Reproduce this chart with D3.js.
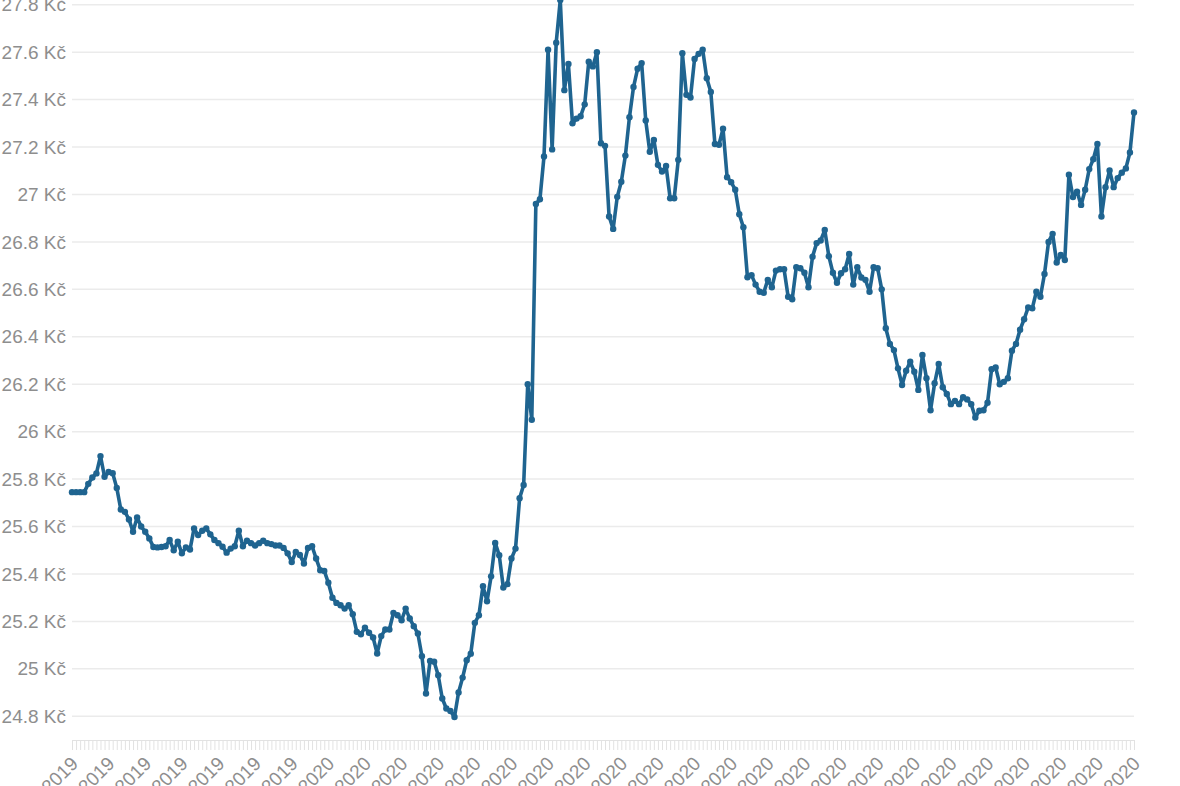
<!DOCTYPE html>
<html lang="cs">
<head>
    <meta charset="UTF-8">
    <title>Kurz EUR/CZK</title>
    <script src="https://d3js.org/d3.v7.min.js"></script>
    <style>
        body {
            margin: 0;
            background: #fff;
        }

        #chart svg {
            display: block;
            font-family: Roboto, "Open Sans", sans-serif;
        }

        .grid line {
            stroke: #ebebeb;
            stroke-width: 1.5;
        }

        .axis text {
            fill: #8e8e8e;
            font-size: 19px;
        }

        .x-axis line,
        .x-axis path {
            stroke: #e2e2e2;
        }
    </style>
</head>
<body>
    <div id="chart"></div>

    <script>
        // Daily rate (Kč)
        const rates = [
            25.745, 25.745, 25.745, 25.745, 25.78, 25.807, 25.824, 25.897, 25.81, 25.83,
            25.825, 25.763, 25.672, 25.662, 25.63, 25.578, 25.638, 25.60, 25.578, 25.55,
            25.514, 25.512, 25.514, 25.517, 25.543, 25.50, 25.536, 25.487, 25.512, 25.503,
            25.592, 25.564, 25.582, 25.592, 25.567, 25.543, 25.53, 25.515, 25.49, 25.507,
            25.517, 25.582, 25.517, 25.54, 25.53, 25.52, 25.53, 25.54, 25.53, 25.526,
            25.52, 25.52, 25.51, 25.487, 25.45, 25.493, 25.48, 25.444, 25.51, 25.517,
            25.465, 25.416, 25.413, 25.363, 25.30, 25.278, 25.268, 25.254, 25.268, 25.23,
            25.156, 25.146, 25.174, 25.152, 25.132, 25.065, 25.138, 25.166, 25.166, 25.236,
            25.226, 25.205, 25.254, 25.212, 25.18, 25.149, 25.053, 24.896, 25.033, 25.03,
            24.973, 24.875, 24.833, 24.822, 24.797, 24.90, 24.963, 25.036, 25.064, 25.194,
            25.226, 25.348, 25.285, 25.39, 25.531, 25.479, 25.343, 25.357, 25.465, 25.507,
            25.719, 25.775, 26.20, 26.05, 26.96, 26.98, 27.16, 27.61, 27.19, 27.64,
            27.82, 27.44, 27.55, 27.30, 27.32, 27.33, 27.38, 27.56, 27.54, 27.60,
            27.216, 27.205, 26.907, 26.855, 26.99, 27.054, 27.164, 27.326, 27.453, 27.53,
            27.554, 27.312, 27.18, 27.23, 27.125, 27.097, 27.12, 26.984, 26.984, 27.146,
            27.596, 27.42, 27.409, 27.571, 27.593, 27.61, 27.49, 27.432, 27.213, 27.21,
            27.277, 27.073, 27.052, 27.02, 26.917, 26.862, 26.651, 26.66, 26.62, 26.59,
            26.586, 26.64, 26.609, 26.679, 26.685, 26.685, 26.569, 26.558, 26.693, 26.689,
            26.67, 26.609, 26.738, 26.795, 26.806, 26.85, 26.74, 26.67, 26.628, 26.668,
            26.685, 26.749, 26.62, 26.693, 26.65, 26.64, 26.59, 26.693, 26.689, 26.60,
            26.436, 26.37, 26.344, 26.267, 26.197, 26.257, 26.295, 26.253, 26.176, 26.323,
            26.225, 26.09, 26.204, 26.285, 26.187, 26.159, 26.116, 26.13, 26.116, 26.145,
            26.136, 26.116, 26.06, 26.088, 26.09, 26.122, 26.263, 26.271, 26.20, 26.21,
            26.225, 26.341, 26.37, 26.43, 26.474, 26.524, 26.52, 26.59, 26.569, 26.665,
            26.80, 26.834, 26.713, 26.745, 26.724, 27.083, 26.989, 27.012, 26.956, 27.02,
            27.107, 27.149, 27.213, 26.907, 27.031, 27.101, 27.031, 27.069, 27.092, 27.11,
            27.177, 27.346
        ];

        // One label on every 9th day
        const labelEvery = 9;
        const tickLabels = [
            "2019", "2019", "2019", "2019", "2019", "2019", "2019",
            "2020", "2020", "2020", "2020", "2020", "2020", "2020", "2020",
            "2020", "2020", "2020", "2020", "2020", "2020", "2020", "2020",
            "2020", "2020", "2020", "2020", "2020", "2020", "2020"
        ];

        const yTicks = [24.8, 25, 25.2, 25.4, 25.6, 25.8, 26, 26.2, 26.4, 26.6, 26.8, 27, 27.2, 27.4, 27.6, 27.8];

        const width = 1180;
        const height = 786;
        const margin = { top: 0, right: 46, bottom: 46, left: 72 };
        const lineColor = '#1f6490';

        const svg = d3.select('#chart')
            .append('svg')
            .attr('width', width)
            .attr('height', height);

        const days = d3.range(rates.length);

        const x = d3.scalePoint()
            .domain(days)
            .range([margin.left, width - margin.right]);

        const y = d3.scaleLinear()
            .domain([24.7, 27.82])
            .range([height - margin.bottom, margin.top]);

        // Horizontal gridlines
        svg.append('g')
            .attr('class', 'grid')
            .selectAll('line')
            .data(yTicks)
            .enter().append('line')
            .attr('x1', margin.left)
            .attr('x2', width - margin.right)
            .attr('y1', d => y(d))
            .attr('y2', d => y(d));

        // Y axis labels
        const yAxis = svg.append('g')
            .attr('class', 'axis y-axis')
            .attr('transform', `translate(${margin.left},0)`)
            .call(d3.axisLeft(y)
                .tickValues(yTicks)
                .tickSize(0)
                .tickPadding(6)
                .tickFormat(d => `${+d.toFixed(1)} Kč`));
        yAxis.select('.domain').remove();

        // X axis: a tick for every day, a year label every 9th
        const xAxis = svg.append('g')
            .attr('class', 'axis x-axis')
            .attr('transform', `translate(0,${height - margin.bottom})`)
            .call(d3.axisBottom(x)
                .tickValues(days)
                .tickSize(10)
                .tickSizeOuter(0)
                .tickFormat(d => d % labelEvery === 0 ? tickLabels[d / labelEvery] : ''));

        xAxis.selectAll('text')
            .attr('x', 0)
            .attr('y', 0)
            .attr('dy', '0.35em')
            .attr('text-anchor', 'end')
            .attr('transform', 'translate(2,20) rotate(-45)');

        // Line
        const line = d3.line()
            .x((d, i) => x(i))
            .y(d => y(d));

        svg.append('path')
            .datum(rates)
            .attr('fill', 'none')
            .attr('stroke', lineColor)
            .attr('stroke-width', 3.6)
            .attr('stroke-linejoin', 'round')
            .attr('d', line);

        // Points
        svg.append('g')
            .selectAll('circle')
            .data(rates)
            .enter().append('circle')
            .attr('cx', (d, i) => x(i))
            .attr('cy', d => y(d))
            .attr('r', 3.2)
            .attr('fill', lineColor);
    </script>
</body>
</html>
